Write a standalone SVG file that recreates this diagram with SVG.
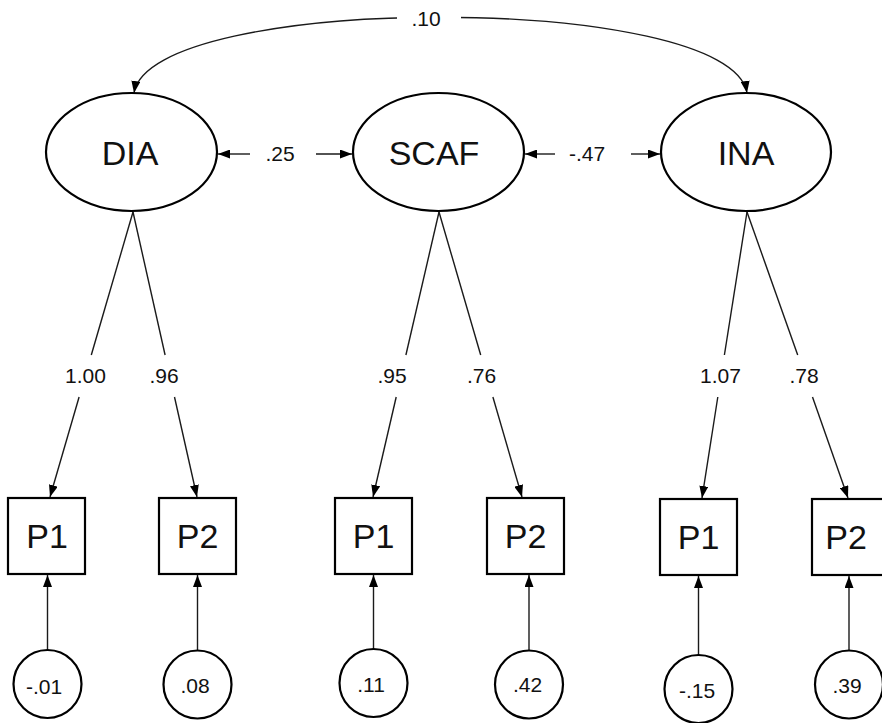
<svg xmlns="http://www.w3.org/2000/svg" width="882" height="723" viewBox="0 0 882 723">
<defs>
<style>
.shape{fill:#fff;stroke:#000;stroke-width:2.2}
.conn{fill:none;stroke:#1a1a1a;stroke-width:1.4}
.big{font-family:"Liberation Sans",Arial,sans-serif;font-size:34px;fill:#111;text-anchor:middle}
.lab{font-family:"Liberation Sans",Arial,sans-serif;font-size:21px;fill:#111;text-anchor:middle}
</style>
<marker id="ah" viewBox="0 0 12 9" refX="12" refY="4.5" markerWidth="12" markerHeight="9" orient="auto-start-reverse" markerUnits="userSpaceOnUse">
<path d="M0,0 L12,4.5 L0,9 z" fill="#000"/>
</marker>
</defs>
<rect width="882" height="723" fill="#fff"/>

<g id="connectors">
  <!-- covariance arc DIA-INA -->
  <path class="conn" d="M134,93 C150,-8 731,-8 747,93" marker-start="url(#ah)" marker-end="url(#ah)"/>
  <rect x="397" y="6" width="64" height="26" fill="#fff"/>
  <!-- DIA-SCAF -->
  <line class="conn" x1="250" y1="154" x2="218" y2="154" marker-end="url(#ah)"/>
  <line class="conn" x1="316" y1="154" x2="352" y2="154" marker-end="url(#ah)"/>
  <!-- SCAF-INA -->
  <line class="conn" x1="555" y1="154" x2="525" y2="154" marker-end="url(#ah)"/>
  <line class="conn" x1="631" y1="154" x2="660" y2="154" marker-end="url(#ah)"/>
  <!-- loadings DIA -->
  <line class="conn" x1="133" y1="212" x2="91.3" y2="355"/>
  <line class="conn" x1="79.1" y1="397" x2="50" y2="497" marker-end="url(#ah)"/>
  <line class="conn" x1="133" y1="212" x2="165.1" y2="355"/>
  <line class="conn" x1="174.5" y1="397" x2="197" y2="497" marker-end="url(#ah)"/>
  <!-- loadings SCAF -->
  <line class="conn" x1="439" y1="212" x2="405.9" y2="355"/>
  <line class="conn" x1="396.2" y1="397" x2="373" y2="497" marker-end="url(#ah)"/>
  <line class="conn" x1="439" y1="212" x2="480.7" y2="355"/>
  <line class="conn" x1="492.9" y1="397" x2="522" y2="497" marker-end="url(#ah)"/>
  <!-- loadings INA -->
  <line class="conn" x1="747" y1="212" x2="724.4" y2="355"/>
  <line class="conn" x1="717.8" y1="397" x2="702" y2="498" marker-end="url(#ah)"/>
  <line class="conn" x1="747" y1="212" x2="797.7" y2="355"/>
  <line class="conn" x1="812.5" y1="397" x2="848" y2="498" marker-end="url(#ah)"/>
  <!-- error terms -->
  <line class="conn" x1="47.5" y1="650" x2="47.5" y2="575" marker-end="url(#ah)"/>
  <line class="conn" x1="197.5" y1="650" x2="197.5" y2="575" marker-end="url(#ah)"/>
  <line class="conn" x1="373.5" y1="649" x2="373.5" y2="575" marker-end="url(#ah)"/>
  <line class="conn" x1="529" y1="650" x2="529" y2="575" marker-end="url(#ah)"/>
  <line class="conn" x1="698.5" y1="655" x2="698.5" y2="576" marker-end="url(#ah)"/>
  <line class="conn" x1="849" y1="650" x2="849" y2="576" marker-end="url(#ah)"/>
</g>

<g id="labels">
  <text class="lab" x="426" y="26">.10</text>
  <text class="lab" x="280" y="161">.25</text>
  <text class="lab" x="587" y="161">-.47</text>
  <text class="lab" x="85.5" y="383">1.00</text>
  <text class="lab" x="164" y="383">.96</text>
  <text class="lab" x="392" y="383">.95</text>
  <text class="lab" x="481.5" y="383">.76</text>
  <text class="lab" x="720.5" y="383">1.07</text>
  <text class="lab" x="804" y="383">.78</text>
</g>

<g id="DIA"><ellipse class="shape" cx="131.5" cy="152" rx="85.5" ry="59"/><text class="big" x="130" y="165">DIA</text></g>
<g id="SCAF"><ellipse class="shape" cx="438.5" cy="152" rx="85.5" ry="59"/><text class="big" x="434" y="165">SCAF</text></g>
<g id="INA"><ellipse class="shape" cx="746" cy="152" rx="85" ry="59"/><text class="big" x="746" y="165">INA</text></g>

<g id="DIA_P1"><rect class="shape" x="8" y="498" width="77" height="76"/><text class="big" x="47" y="548">P1</text></g>
<g id="DIA_P2"><rect class="shape" x="159" y="498" width="77" height="76"/><text class="big" x="197.5" y="548">P2</text></g>
<g id="SCAF_P1"><rect class="shape" x="335" y="498" width="77" height="76"/><text class="big" x="373.5" y="548">P1</text></g>
<g id="SCAF_P2"><rect class="shape" x="487" y="498" width="77" height="76"/><text class="big" x="525.5" y="548">P2</text></g>
<g id="INA_P1"><rect class="shape" x="660" y="499" width="77" height="76"/><text class="big" x="698.5" y="549">P1</text></g>
<g id="INA_P2"><rect class="shape" x="812" y="499" width="77" height="76"/><text class="big" x="846" y="549">P2</text></g>

<g id="e_DIA_P1"><circle class="shape" cx="47.5" cy="684" r="34"/><text class="lab" x="44" y="694">-.01</text></g>
<g id="e_DIA_P2"><circle class="shape" cx="197.5" cy="684.5" r="34"/><text class="lab" x="195" y="693">.08</text></g>
<g id="e_SCAF_P1"><circle class="shape" cx="373.5" cy="683" r="34"/><text class="lab" x="371" y="692">.11</text></g>
<g id="e_SCAF_P2"><circle class="shape" cx="529" cy="684.5" r="34"/><text class="lab" x="527.5" y="692">.42</text></g>
<g id="e_INA_P1"><circle class="shape" cx="698.5" cy="689" r="34"/><text class="lab" x="697" y="698">-.15</text></g>
<g id="e_INA_P2"><circle class="shape" cx="849" cy="684.5" r="34"/><text class="lab" x="847" y="693">.39</text></g>
</svg>
